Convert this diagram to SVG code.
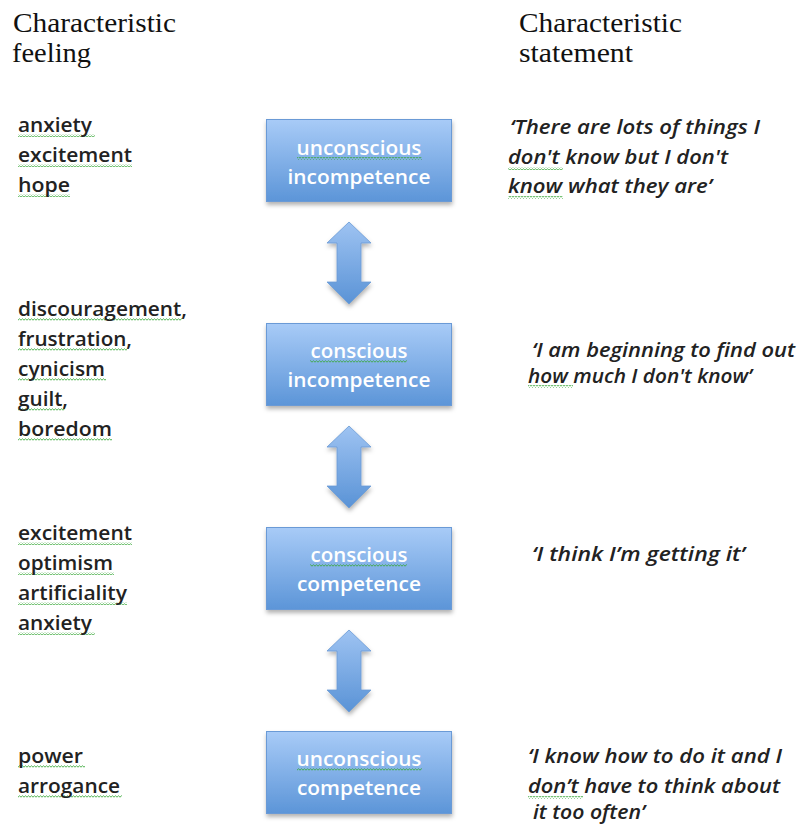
<svg xmlns="http://www.w3.org/2000/svg" width="803" height="825" viewBox="0 0 803 825">
  <style>
    .hdr { font-family: "Liberation Serif", "Times New Roman", serif; font-size: 27px; fill: #111; }
    .feel { font-family: "Open Sans", "Liberation Sans", sans-serif; font-size: 20px; font-weight: 600; fill: #222; }
    .stmt { font-family: "Open Sans", "Liberation Sans", sans-serif; font-size: 20px; font-weight: 600; font-style: italic; fill: #222; }
    .btxt { font-family: "Open Sans", "Liberation Sans", sans-serif; font-size: 20px; font-weight: 600; fill: #ffffff; text-anchor: middle; }
    .box { fill: url(#boxGrad); stroke: #6a9ad6; stroke-width: 1; filter: url(#shadow); }
    .arrow { fill: url(#arrowGrad); stroke: #6a9ad6; stroke-width: 0.8; filter: url(#shadow); }
    .sq { fill: url(#squiggle); }
  </style>
  <defs>
    <linearGradient id="boxGrad" x1="0" y1="0" x2="0" y2="1">
      <stop offset="0" stop-color="#a8cbf7"/>
      <stop offset="1" stop-color="#5c95d8"/>
    </linearGradient>
    <linearGradient id="arrowGrad" x1="0" y1="0" x2="0" y2="1">
      <stop offset="0" stop-color="#9ec3f2"/>
      <stop offset="1" stop-color="#5a93d6"/>
    </linearGradient>
    <filter id="shadow" x="-10%" y="-10%" width="130%" height="140%">
      <feDropShadow dx="0.5" dy="3" stdDeviation="2" flood-color="#000" flood-opacity="0.3"/>
    </filter>
    <pattern id="squiggle" patternUnits="userSpaceOnUse" width="3" height="3">
      <path d="M0,2.2 L1.5,0.8 L3,2.2" fill="none" stroke="#3aa83a" stroke-width="0.9"/>
    </pattern>
  </defs>

  <rect width="803" height="825" fill="#ffffff"/>

  <!-- Headers -->
  <g id="header-feeling">
    <text class="hdr" x="13" y="32" textLength="163" lengthAdjust="spacingAndGlyphs">Characteristic</text>
    <text class="hdr" x="12" y="62" textLength="79" lengthAdjust="spacingAndGlyphs">feeling</text>
  </g>
  <g id="header-statement">
    <text class="hdr" x="519" y="32" textLength="163" lengthAdjust="spacingAndGlyphs">Characteristic</text>
    <text class="hdr" x="519" y="62" textLength="114" lengthAdjust="spacingAndGlyphs">statement</text>
  </g>

  <!-- Connectors -->
  <g id="connectors">
    <path class="arrow" d="M349,222 L371,243 L361,243 L361,282 L371,282 L349,304 L327,282 L337,282 L337,243 L327,243 Z"/>
    <path class="arrow" d="M349,426 L371,447 L361,447 L361,486 L371,486 L349,508 L327,486 L337,486 L337,447 L327,447 Z"/>
    <path class="arrow" d="M349,630 L371,651 L361,651 L361,690 L371,690 L349,712 L327,690 L337,690 L337,651 L327,651 Z"/>
  </g>

  <!-- Nodes -->
  <g id="node-unconscious-incompetence">
    <rect class="box" x="266.5" y="119.5" width="185" height="82"/>
    <rect class="sq" x="297" y="157" width="125" height="3"/>
    <text class="btxt" x="359" y="155" textLength="125" lengthAdjust="spacingAndGlyphs">unconscious</text>
    <text class="btxt" x="359" y="184" textLength="143" lengthAdjust="spacingAndGlyphs">incompetence</text>
  </g>
  <g id="node-conscious-incompetence">
    <rect class="box" x="266.5" y="323.5" width="185" height="82"/>
    <rect class="sq" x="310" y="360" width="97" height="3"/>
    <text class="btxt" x="359" y="358" textLength="97" lengthAdjust="spacingAndGlyphs">conscious</text>
    <text class="btxt" x="359" y="387" textLength="143" lengthAdjust="spacingAndGlyphs">incompetence</text>
  </g>
  <g id="node-conscious-competence">
    <rect class="box" x="266.5" y="527.5" width="185" height="82"/>
    <rect class="sq" x="310" y="564" width="97" height="3"/>
    <text class="btxt" x="359" y="562" textLength="97" lengthAdjust="spacingAndGlyphs">conscious</text>
    <text class="btxt" x="359" y="591" textLength="124" lengthAdjust="spacingAndGlyphs">competence</text>
  </g>
  <g id="node-unconscious-competence">
    <rect class="box" x="266.5" y="731.5" width="185" height="82"/>
    <rect class="sq" x="297" y="768" width="125" height="3"/>
    <text class="btxt" x="359" y="766" textLength="125" lengthAdjust="spacingAndGlyphs">unconscious</text>
    <text class="btxt" x="359" y="795" textLength="124" lengthAdjust="spacingAndGlyphs">competence</text>
  </g>

  <!-- Feelings -->
  <g id="feelings-1">
    <rect class="sq" x="18" y="134" width="77" height="3"/>
    <rect class="sq" x="18" y="164" width="114" height="3"/>
    <rect class="sq" x="18" y="194" width="52" height="3"/>
    <text class="feel" x="18" y="132" textLength="74" lengthAdjust="spacingAndGlyphs">anxiety</text>
    <text class="feel" x="18" y="162" textLength="114" lengthAdjust="spacingAndGlyphs">excitement</text>
    <text class="feel" x="18" y="192" textLength="52" lengthAdjust="spacingAndGlyphs">hope</text>
  </g>
  <g id="feelings-2">
    <rect class="sq" x="18" y="318" width="164" height="3"/>
    <rect class="sq" x="18" y="348" width="109" height="3"/>
    <rect class="sq" x="18" y="378" width="88" height="3"/>
    <rect class="sq" x="18" y="408" width="47" height="3"/>
    <rect class="sq" x="18" y="438" width="94" height="3"/>
    <text class="feel" x="18" y="316" textLength="169" lengthAdjust="spacingAndGlyphs">discouragement,</text>
    <text class="feel" x="18" y="346" textLength="114" lengthAdjust="spacingAndGlyphs">frustration,</text>
    <text class="feel" x="18" y="376" textLength="87" lengthAdjust="spacingAndGlyphs">cynicism</text>
    <text class="feel" x="18" y="406" textLength="50" lengthAdjust="spacingAndGlyphs">guilt,</text>
    <text class="feel" x="18" y="436" textLength="94" lengthAdjust="spacingAndGlyphs">boredom</text>
  </g>
  <g id="feelings-3">
    <rect class="sq" x="18" y="542" width="114" height="3"/>
    <rect class="sq" x="18" y="572" width="96" height="3"/>
    <rect class="sq" x="18" y="602" width="109" height="3"/>
    <rect class="sq" x="18" y="632" width="77" height="3"/>
    <text class="feel" x="18" y="540" textLength="114" lengthAdjust="spacingAndGlyphs">excitement</text>
    <text class="feel" x="18" y="570" textLength="95" lengthAdjust="spacingAndGlyphs">optimism</text>
    <text class="feel" x="18" y="600" textLength="109" lengthAdjust="spacingAndGlyphs">artificiality</text>
    <text class="feel" x="18" y="630" textLength="74" lengthAdjust="spacingAndGlyphs">anxiety</text>
  </g>
  <g id="feelings-4">
    <rect class="sq" x="18" y="765" width="67" height="3"/>
    <rect class="sq" x="18" y="795" width="104" height="3"/>
    <text class="feel" x="18" y="763" textLength="65" lengthAdjust="spacingAndGlyphs">power</text>
    <text class="feel" x="18" y="793" textLength="102" lengthAdjust="spacingAndGlyphs">arrogance</text>
  </g>

  <!-- Statements -->
  <g id="statement-1">
    <rect class="sq" x="508" y="167" width="55" height="3"/>
    <rect class="sq" x="508" y="196" width="55" height="3"/>
    <text class="stmt" x="510" y="134" textLength="250" lengthAdjust="spacingAndGlyphs">‘There are lots of things I</text>
    <text class="stmt" x="508" y="164" textLength="220" lengthAdjust="spacingAndGlyphs">don't know but I don't</text>
    <text class="stmt" x="508" y="193" textLength="204" lengthAdjust="spacingAndGlyphs">know what they are’</text>
  </g>
  <g id="statement-2">
    <rect class="sq" x="528" y="385" width="45" height="3"/>
    <text class="stmt" x="532" y="357" textLength="263" lengthAdjust="spacingAndGlyphs">‘I am beginning to find out</text>
    <text class="stmt" x="528" y="383" textLength="224" lengthAdjust="spacingAndGlyphs">how much I don't know’</text>
  </g>
  <g id="statement-3">
    <text class="stmt" x="532" y="561" textLength="213" lengthAdjust="spacingAndGlyphs">‘I think I’m getting it’</text>
  </g>
  <g id="statement-4">
    <rect class="sq" x="528" y="796" width="55" height="3"/>
    <text class="stmt" x="528" y="763" textLength="254" lengthAdjust="spacingAndGlyphs">‘I know how to do it and I</text>
    <text class="stmt" x="528" y="793" textLength="252" lengthAdjust="spacingAndGlyphs">don’t have to think about</text>
    <text class="stmt" x="533" y="819" textLength="112" lengthAdjust="spacingAndGlyphs">it too often’</text>
  </g>
</svg>
